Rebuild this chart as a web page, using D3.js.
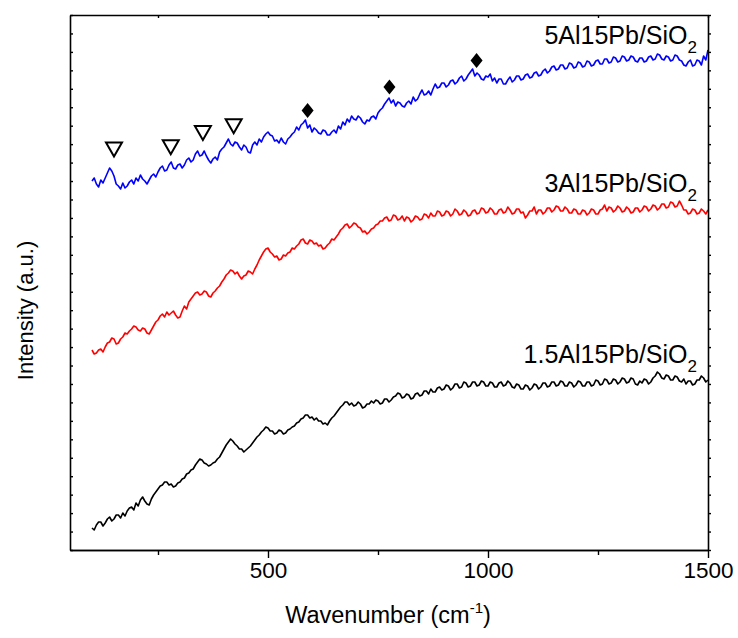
<!DOCTYPE html>
<html>
<head>
<meta charset="utf-8">
<script src="https://cdn.jsdelivr.net/npm/d3@7"></script>
<style>
  html, body { margin: 0; padding: 0; background: #fff; }
  svg { display: block; font-family: "Liberation Sans", Arial, sans-serif; }
</style>
</head>
<body>
<svg id="chart" width="738" height="638"></svg>
<script>
// ---------------- DATA ----------------
const wavenumber = d3.range(100, 1501, 5); // cm^-1 sampling grid (281 points)

const blue5Al = [
  369,372,366,363,370,367,372,377,382,379,374,366,364,361,367,362,364,368,370,366,
  372,369,375,371,369,366,370,374,376,373,378,382,384,379,380,385,388,382,381,385,
  386,382,385,390,392,388,390,396,399,394,395,399,394,390,387,391,393,390,398,401,
  403,407,411,406,404,408,407,403,400,405,403,398,397,405,408,405,411,408,413,416,
  418,415,414,409,410,407,412,408,406,411,413,416,418,423,420,425,427,430,422,425,
  418,422,420,417,416,420,419,415,415,418,420,417,424,421,428,425,431,428,434,431,
  430,434,432,428,426,430,429,433,434,431,437,440,442,446,449,452,447,450,444,448,
  447,444,443,447,449,446,453,449,451,456,460,455,456,459,455,461,466,462,463,467,
  467,463,465,469,470,466,468,472,474,469,471,475,478,481,474,477,475,471,470,474,
  473,476,469,472,467,471,471,466,466,470,473,468,470,474,474,470,471,475,476,472,
  473,477,478,474,475,479,481,477,479,483,484,480,481,485,485,481,482,487,486,482,
  483,488,487,483,484,489,488,484,485,489,490,486,486,491,491,487,488,493,492,488,
  489,494,493,489,490,494,493,489,488,492,492,488,489,493,494,490,491,496,495,491,
  490,494,493,489,490,495,494,490,489,485,484,488,490,484,485,490,489,485,494,490,
  500
];
const red3Al = [
  200,196,197,200,201,198,203,207,208,212,211,206,207,211,213,217,216,219,221,224,
  223,220,219,222,221,217,216,220,224,228,230,234,236,233,238,235,237,239,235,232,
  233,239,244,241,248,251,254,257,258,255,256,259,258,254,253,257,259,262,264,268,
  271,275,277,280,279,276,278,274,271,274,275,279,278,276,281,285,290,294,298,301,
  302,298,296,293,294,290,291,295,294,297,298,302,301,304,306,310,311,307,306,310,
  309,306,307,304,305,301,302,305,307,311,310,313,316,320,322,325,326,322,324,327,
  326,323,322,318,319,316,318,321,322,325,326,329,329,332,333,329,330,335,334,330,
  331,334,329,333,332,328,330,334,333,330,331,336,335,332,337,334,334,339,338,334,
  335,339,338,334,336,341,339,335,336,340,338,334,335,339,340,336,337,342,341,337,
  338,342,340,336,336,340,341,337,338,343,340,336,337,341,341,337,338,332,335,339,
  339,343,336,340,340,336,338,342,342,338,340,344,343,339,339,343,341,337,337,341,
  340,336,336,340,339,335,337,341,340,336,336,340,341,345,339,343,342,338,340,344,
  342,338,339,343,341,337,338,342,342,338,340,344,343,339,341,345,344,340,342,346,
  346,342,343,348,347,343,344,349,345,340,340,336,337,341,340,336,337,341,339,336,
  340
];
const black15Al = [
  22,20,25,28,28,24,27,31,33,29,31,35,35,32,37,34,39,42,43,40,
  47,44,50,53,49,46,45,51,55,58,61,64,65,68,68,65,66,63,64,67,
  68,71,72,76,77,80,81,85,88,91,90,87,86,84,85,87,88,91,93,97,
  101,105,108,111,109,106,104,101,101,98,100,102,104,107,110,113,115,118,120,123,
  122,119,119,116,117,120,119,116,117,120,121,123,124,127,128,131,132,135,135,132,
  133,130,132,129,129,126,127,125,129,132,134,137,140,143,145,148,148,145,147,144,
  145,148,146,142,143,146,146,149,147,150,149,146,147,151,151,148,150,153,154,157,
  156,152,153,156,155,151,152,156,157,154,155,159,159,156,161,158,158,162,163,160,
  161,165,164,160,162,166,166,162,163,168,167,163,164,168,168,164,165,169,168,164,
  164,168,167,163,163,167,168,164,165,169,167,163,162,166,165,161,161,165,164,160,
  162,166,165,161,163,167,167,163,164,168,168,164,165,169,168,164,164,168,167,163,
  165,169,168,164,164,168,168,164,165,170,169,165,166,171,170,166,167,171,170,166,
  168,172,171,167,168,172,171,166,165,169,167,171,170,166,168,172,174,178,176,172,
  171,175,174,170,170,174,173,169,168,171,166,169,169,165,166,170,170,174,172,168,
  170
];

const seriesNames = ["5Al15Pb/SiO", "3Al15Pb/SiO", "1.5Al15Pb/SiO"];
const seriesColors = ["#0000ff", "#ff0000", "#000000"];
const labelLevels = [506, 358, 187]; // intensity level of label baselines (a.u.)

const triangleW = [150, 279, 352, 422];
const triangleI = [400.5, 402.7, 417, 423.8];
const diamondW = [590, 776, 974];
const diamondI = [439.5, 463, 489.5];

const xMajorTicks = [500, 1000, 1500];
const xMinorTicks = [250, 750, 1250];
const xDomain = [50, 1500];
const yDomain = [0, 535];
const yTickCount = 29;

// ---------------- LAYOUT ----------------
const svg = d3.select("#chart");
const L = 70, R = 708, T = 15, B = 550;

const x = d3.scaleLinear().domain(xDomain).range([L, R]);
const y = d3.scaleLinear().domain(yDomain).range([B, T]);

svg.append("rect").attr("width", 738).attr("height", 638).attr("fill", "#fff");

svg.append("clipPath").attr("id", "clip")
  .append("rect").attr("x", L).attr("y", T).attr("width", R - L).attr("height", B - T);

// series lines
const series = [blue5Al, red3Al, black15Al];
const line = d3.line().x((d, i) => x(wavenumber[i])).y(d => y(d));
series.forEach((s, k) => {
  svg.append("path")
    .datum(s)
    .attr("d", line)
    .attr("fill", "none")
    .attr("stroke", seriesColors[k])
    .attr("stroke-width", 1.6)
    .attr("stroke-linejoin", "round")
    .attr("clip-path", "url(#clip)");
});

// axes
const yTicks = d3.range(yTickCount + 1).map(i => yDomain[0] + i * (yDomain[1] - yDomain[0]) / yTickCount);

const axBottomMajor = svg.append("g").attr("transform", `translate(0,${B})`)
  .call(d3.axisBottom(x).tickValues(xMajorTicks).tickFormat(d3.format("d"))
    .tickSize(8).tickPadding(4).tickSizeOuter(0));
const axBottomMinor = svg.append("g").attr("transform", `translate(0,${B})`)
  .call(d3.axisBottom(x).tickValues(xMinorTicks).tickSize(5).tickFormat("").tickSizeOuter(0));
const axTop = svg.append("g").attr("transform", `translate(0,${T})`)
  .call(d3.axisTop(x).tickValues(xMajorTicks.concat(xMinorTicks)).tickSize(-3).tickFormat("").tickSizeOuter(0));
const axLeft = svg.append("g").attr("transform", `translate(${L},0)`)
  .call(d3.axisLeft(y).tickValues(yTicks).tickSize(-3).tickFormat("").tickSizeOuter(0));
const axRight = svg.append("g").attr("transform", `translate(${R},0)`)
  .call(d3.axisRight(y).tickValues(yTicks).tickSize(3).tickFormat("").tickSizeOuter(0));

[axBottomMajor, axBottomMinor, axTop, axLeft, axRight].forEach(g => {
  g.selectAll(".domain").attr("stroke", "#000").attr("stroke-width", 1.6);
  g.selectAll(".tick line").attr("stroke", "#000").attr("stroke-width", 1.4);
});
axBottomMajor.selectAll(".tick text")
  .attr("font-size", 22.5).attr("fill", "#000")
  .attr("font-family", "'Liberation Sans', Arial, sans-serif");

// markers
const markG = svg.append("g");
triangleW.forEach((w, i) => {
  const cx = x(w), cy = y(triangleI[i]);
  const hw = 8, hh = 7;
  markG.append("path")
    .attr("d", `M${cx - hw},${cy - hh}L${cx + hw},${cy - hh}L${cx},${cy + hh}Z`)
    .attr("fill", "#fff").attr("stroke", "#000").attr("stroke-width", 2)
    .attr("stroke-linejoin", "miter");
});
diamondW.forEach((w, i) => {
  const cx = x(w), cy = y(diamondI[i]);
  const hw = 6, hh = 7.5;
  markG.append("path")
    .attr("d", `M${cx},${cy - hh}L${cx + hw},${cy}L${cx},${cy + hh}L${cx - hw},${cy}Z`)
    .attr("fill", "#000");
});

// series labels
seriesNames.forEach((name, k) => {
  const t = svg.append("text")
    .attr("x", 697).attr("y", y(labelLevels[k]))
    .attr("text-anchor", "end")
    .attr("font-size", 25).attr("fill", "#000");
  t.append("tspan").text(name);
  t.append("tspan").attr("font-size", 17).attr("dy", 9).text("2");
});

// axis titles
const xt = svg.append("text")
  .attr("x", 388).attr("y", 623)
  .attr("text-anchor", "middle").attr("font-size", 23.5).attr("fill", "#000");
xt.append("tspan").text("Wavenumber (cm");
xt.append("tspan").attr("font-size", 15).attr("dy", -10).text("-1");
xt.append("tspan").attr("dy", 10).text(")");

svg.append("text")
  .attr("transform", `translate(33,${(T + B) / 2 + 28}) rotate(-90)`)
  .attr("text-anchor", "middle").attr("font-size", 22).attr("fill", "#000")
  .text("Intensity (a.u.)");
</script>
</body>
</html>
